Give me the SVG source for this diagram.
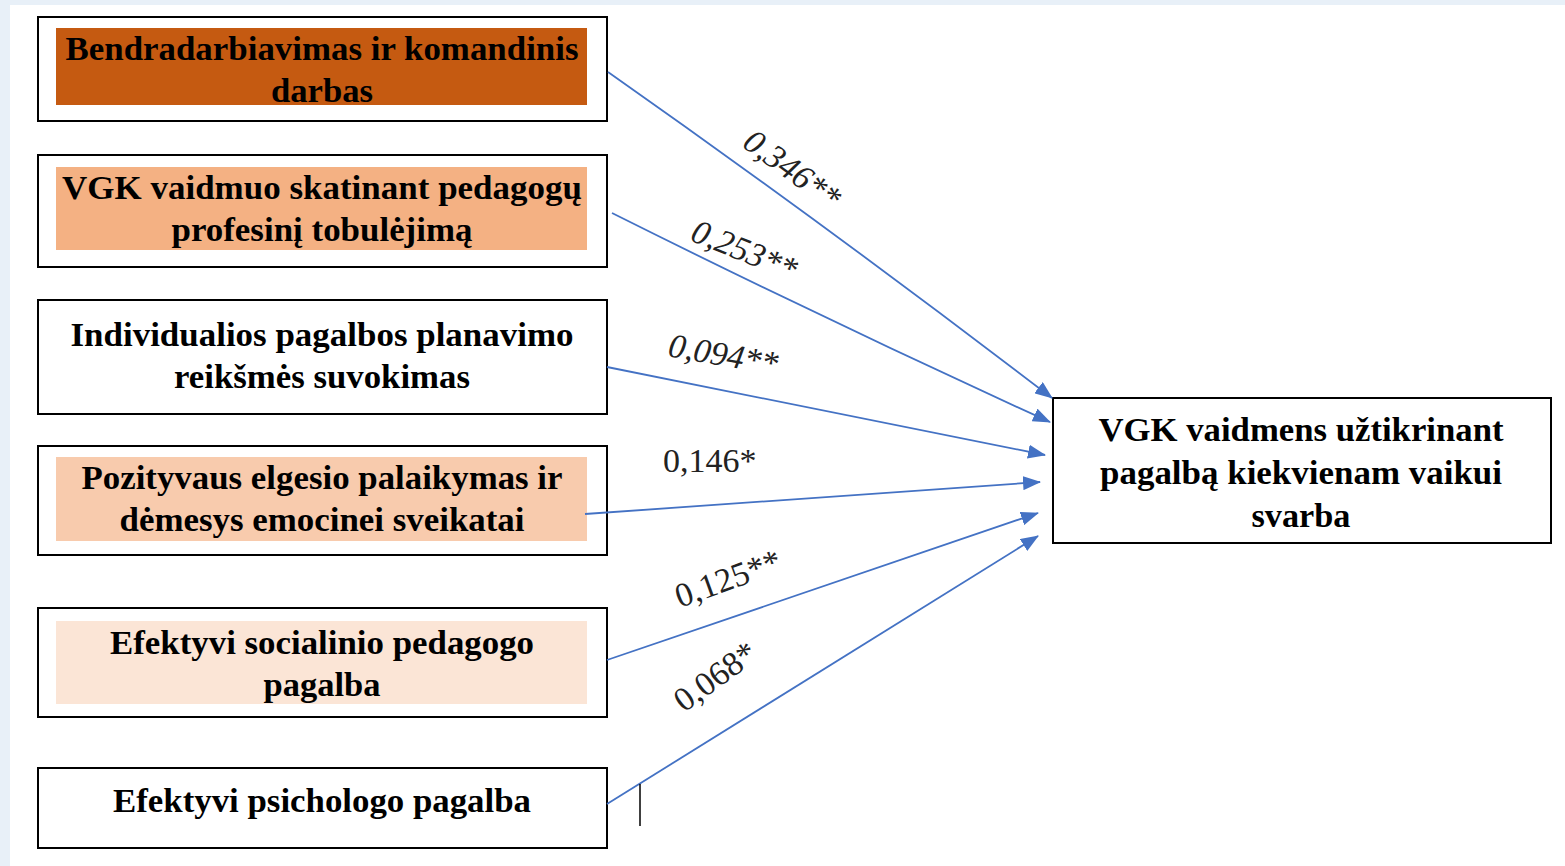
<svg xmlns="http://www.w3.org/2000/svg" width="1565" height="866" viewBox="0 0 1565 866">
<defs>
<marker id="ah" markerWidth="18" markerHeight="14" refX="17" refY="7" orient="auto" markerUnits="userSpaceOnUse" viewBox="0 0 18 14">
<path d="M0,0 L18,7 L0,14 Z" fill="#4472c4"/>
</marker>
<style>
.box{fill:#fff;stroke:#000;stroke-width:2}
.t{font-weight:bold;font-size:33px;fill:#000;text-anchor:middle}
.lbl{font-size:34px;fill:#222}
.it{font-style:italic}
.c{stroke:#4472c4;stroke-width:1.8;fill:none;marker-end:url(#ah)}
</style>
</defs>
<rect x="0" y="0" width="1565" height="866" fill="#e8f0f8"/>
<rect x="10" y="5" width="1555" height="861" fill="#fff"/>
<g font-family="'Liberation Serif', 'Times New Roman', 'DejaVu Serif', serif">
<g id="n1">
<rect class="box" x="38" y="17" width="569" height="104"/>
<rect x="56" y="28" width="531" height="77" fill="#c55a11"/>
<text class="t" x="322" y="60" textLength="513" lengthAdjust="spacingAndGlyphs">Bendradarbiavimas ir komandinis</text>
<text class="t" x="322" y="102" textLength="102" lengthAdjust="spacingAndGlyphs">darbas</text>
</g>
<g id="n2">
<rect class="box" x="38" y="155" width="569" height="112"/>
<rect x="56" y="167" width="531" height="83" fill="#f4b183"/>
<text class="t" x="322" y="199" textLength="520" lengthAdjust="spacingAndGlyphs">VGK vaidmuo skatinant pedagogų</text>
<text class="t" x="322" y="241" textLength="301" lengthAdjust="spacingAndGlyphs">profesinį tobulėjimą</text>
</g>
<g id="n3">
<rect class="box" x="38" y="300" width="569" height="114"/>
<text class="t" x="322" y="346" textLength="503" lengthAdjust="spacingAndGlyphs">Individualios pagalbos planavimo</text>
<text class="t" x="322" y="388" textLength="296" lengthAdjust="spacingAndGlyphs">reikšmės suvokimas</text>
</g>
<g id="n4">
<rect class="box" x="38" y="446" width="569" height="109"/>
<rect x="56" y="457" width="531" height="84" fill="#f8cbad"/>
<text class="t" x="322" y="489" textLength="481" lengthAdjust="spacingAndGlyphs">Pozityvaus elgesio palaikymas ir</text>
<text class="t" x="322" y="531" textLength="405" lengthAdjust="spacingAndGlyphs">dėmesys emocinei sveikatai</text>
</g>
<g id="n5">
<rect class="box" x="38" y="608" width="569" height="109"/>
<rect x="56" y="621" width="531" height="83" fill="#fbe5d6"/>
<text class="t" x="322" y="654" textLength="424" lengthAdjust="spacingAndGlyphs">Efektyvi socialinio pedagogo</text>
<text class="t" x="322" y="696" textLength="117" lengthAdjust="spacingAndGlyphs">pagalba</text>
</g>
<g id="n6">
<rect class="box" x="38" y="768" width="569" height="80"/>
<text class="t" x="322" y="812" textLength="418" lengthAdjust="spacingAndGlyphs">Efektyvi psichologo pagalba</text>
</g>
<g id="n7">
<rect class="box" x="1053" y="398" width="498" height="145"/>
<text class="t" x="1301" y="441" textLength="405" lengthAdjust="spacingAndGlyphs">VGK vaidmens užtikrinant</text>
<text class="t" x="1301" y="484" textLength="402" lengthAdjust="spacingAndGlyphs">pagalbą kiekvienam vaikui</text>
<text class="t" x="1301" y="527" textLength="99" lengthAdjust="spacingAndGlyphs">svarba</text>
</g>
<g id="connectors">
<path class="c" d="M608,72 Q830,228 1052,398"/>
<path class="c" d="M612,213 Q830,322 1050,422"/>
<path class="c" d="M607,367 L1045,455"/>
<path class="c" d="M585,514 L1040,482"/>
<path class="c" d="M607,660 L1038,513"/>
<path class="c" d="M607,804 L1038,536"/>
<line x1="640" y1="784" x2="640" y2="826" stroke="#000" stroke-width="1.5"/>
</g>
<g id="labels">
<text class="lbl it" transform="translate(741,146) rotate(36)">0,346**</text>
<text class="lbl it" transform="translate(689,240) rotate(22)">0,253**</text>
<text class="lbl it" transform="translate(667,356) rotate(10)">0,094**</text>
<text class="lbl" transform="translate(663,472)">0,146*</text>
<text class="lbl" transform="translate(680,608) rotate(-20)">0,125**</text>
<text class="lbl" transform="translate(684,713) rotate(-36)">0,068*</text>
</g>
</g>
</svg>
